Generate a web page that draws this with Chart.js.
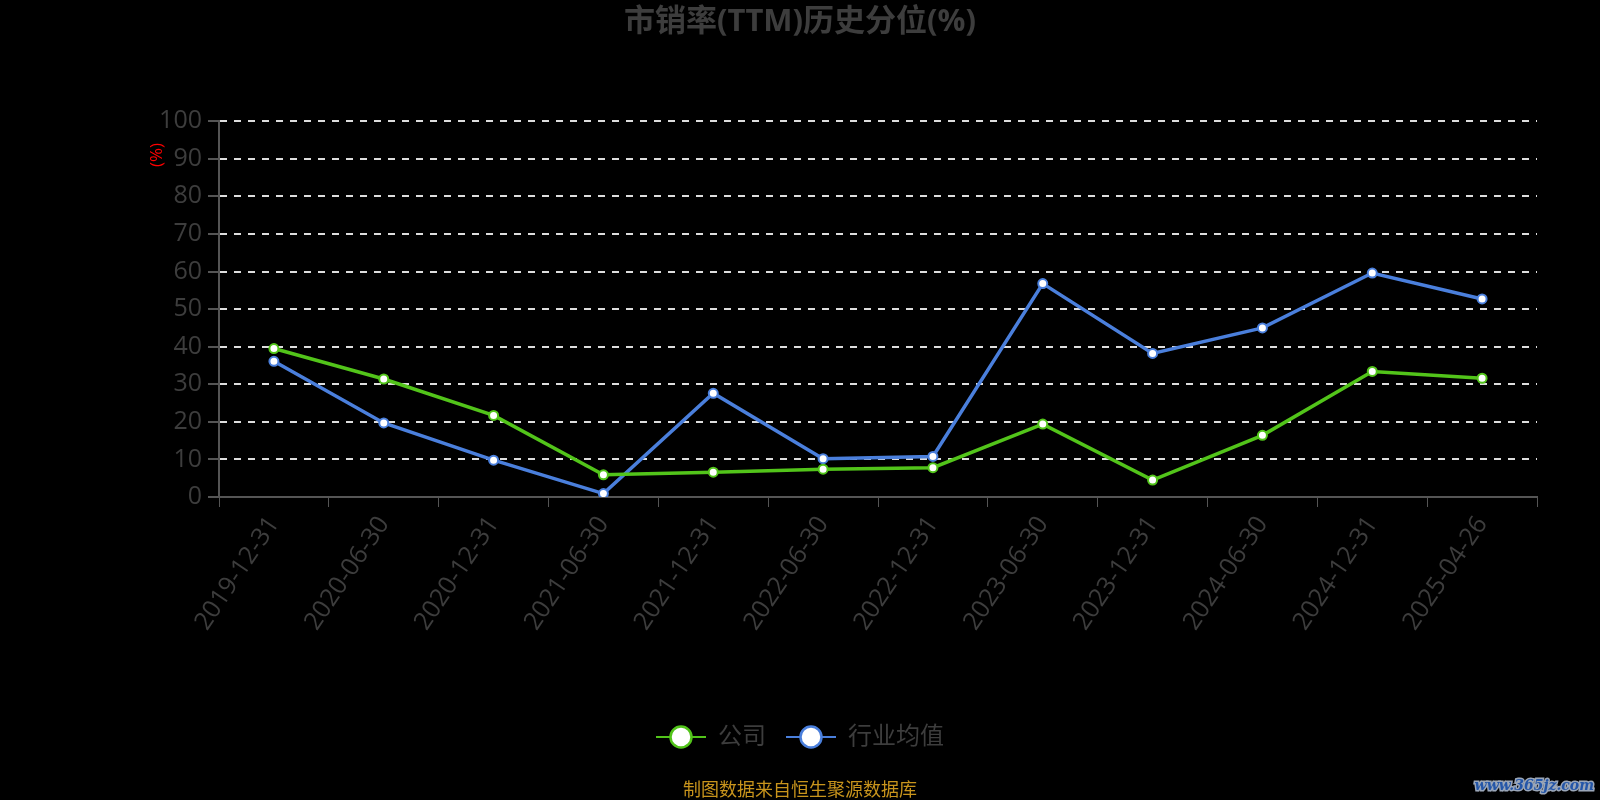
<!DOCTYPE html>
<html>
<head>
<meta charset="utf-8">
<title>市销率(TTM)历史分位(%)</title>
<script src="https://cdn.jsdelivr.net/npm/chart.js@4.4.1/dist/chart.umd.min.js"></script>
<style>
  html, body { margin: 0; padding: 0; background: #000; }
  #wrap { width: 1600px; height: 800px; }
</style>
</head>
<body>
<div id="wrap"><canvas id="myChart" width="1600" height="800"></canvas></div>
<script>
// data
const dates = ["2019-12-31", "2020-06-30", "2020-12-31", "2021-06-30", "2021-12-31", "2022-06-30",
  "2022-12-31", "2023-06-30", "2023-12-31", "2024-06-30", "2024-12-31", "2025-04-26"];
const companyValues = [39.5, 31.4, 21.7, 5.9, 6.6, 7.4, 7.8, 19.4, 4.5, 16.4, 33.4, 31.6];
const industryValues = [36.1, 19.7, 9.8, 0.9, 27.6, 10.2, 10.8, 56.8, 38.2, 45.0, 59.6, 52.7];
const seriesNames = ["公司", "行业均值"];
const yTicks = [0, 10, 20, 30, 40, 50, 60, 70, 80, 90, 100];

const green = "#52c41a";
const blue = "#4a7fdc";
const textGray = "#3d3d3d";
const axisGray = "#555555";

Chart.defaults.font.family = "'Open Sans', 'Noto Sans CJK SC', sans-serif";

// legend icon: short line with a hollow circle on it
function legendIcon(color) {
  let c = document.createElement("canvas");
  c.width = 50;
  c.height = 28;
  let g = c.getContext("2d");
  g.strokeStyle = color;
  g.lineWidth = 2;
  g.beginPath();
  g.moveTo(0, 14);
  g.lineTo(50, 14);
  g.stroke();
  g.beginPath();
  g.arc(25, 14, 10.5, 0, Math.PI * 2);
  g.fillStyle = "#fff";
  g.fill();
  g.lineWidth = 2.5;
  g.stroke();
  return c;
}
const icons = [legendIcon(green), legendIcon(blue)];

const extraText = {
  id: "extraText",
  afterDraw(chart) {
    const c = chart.ctx;
    c.save();
    // y axis unit
    c.translate(157, 155);
    c.rotate(-Math.PI / 2);
    c.fillStyle = "#ff0000";
    c.font = "17px 'Open Sans', 'Noto Sans CJK SC'";
    c.textAlign = "center";
    c.textBaseline = "middle";
    c.fillText("(%)", 0, 0);
    c.restore();

    c.save();
    c.fillStyle = "#c8941c";
    c.font = "18px 'Noto Sans CJK SC'";
    c.textAlign = "center";
    c.textBaseline = "middle";
    c.fillText("制图数据来自恒生聚源数据库", 800, 789);

    c.font = "bold italic 14px 'DejaVu Serif', serif";
    c.textAlign = "right";
    c.lineWidth = 3;
    c.strokeStyle = "#9aa6b8";
    c.strokeText("www.365jz.com", 1594, 786);
    c.fillStyle = "#2456a8";
    c.fillText("www.365jz.com", 1594, 786);
    c.restore();
  }
};

const ctx = document.getElementById("myChart");
const myChart = new Chart(ctx, {
  type: "line",
  data: {
    labels: dates,
    datasets: [
      {
        label: seriesNames[0],
        data: companyValues,
        borderColor: green,
        borderWidth: 3.5,
        pointRadius: 4.5,
        pointBorderWidth: 2,
        pointBackgroundColor: "#fff",
        pointBorderColor: green,
        tension: 0,
      },
      {
        label: seriesNames[1],
        data: industryValues,
        borderColor: blue,
        borderWidth: 3.5,
        pointRadius: 4.5,
        pointBorderWidth: 2,
        pointBackgroundColor: "#fff",
        pointBorderColor: blue,
        tension: 0,
      },
    ],
  },
  options: {
    responsive: false,
    animation: false,
    devicePixelRatio: 1,
    layout: { padding: { left: 0, right: 0, top: 0, bottom: 41 } },
    plugins: {
      title: {
        display: true,
        text: "市销率(TTM)历史分位(%)",
        color: textGray,
        font: { size: 31, weight: "bold" },
        padding: { top: 4, bottom: 80 },
      },
      legend: {
        position: "bottom",
        labels: {
          usePointStyle: true,
          pointStyleWidth: 50,
          boxHeight: 24,
          padding: 20,
          color: textGray,
          font: { size: 24 },
          generateLabels: (chart) =>
            chart.data.datasets.map((ds, i) => ({
              text: ds.label,
              pointStyle: icons[i],
              fontColor: textGray,
              fillStyle: "#fff",
              strokeStyle: ds.borderColor,
              lineWidth: 0,
              hidden: false,
              datasetIndex: i,
            })),
        },
      },
      tooltip: { enabled: false },
    },
    scales: {
      x: {
        offset: true,
        grid: {
          offset: true,
          drawOnChartArea: false,
          tickLength: 10,
          tickColor: axisGray,
          color: axisGray,
        },
        border: { color: axisGray, width: 2 },
        ticks: {
          color: textGray,
          font: { size: 25 },
          minRotation: 56,
          maxRotation: 56,
          padding: 4,
          autoSkip: false,
        },
        afterFit: (scale) => {
          scale.height = 208;
        },
      },
      y: {
        min: 0,
        max: 100,
        afterBuildTicks: (scale) => {
          scale.ticks = yTicks.map((v) => ({ value: v }));
        },
        grid: {
          color: (c) => (c.tick && c.tick.value === 0 ? "rgba(0,0,0,0)" : "#dddddd"),
          lineWidth: 2,
          tickLength: 11,
          tickColor: axisGray,
          tickBorderDash: [],
          tickWidth: 2,
        },
        border: { color: axisGray, width: 2, dash: [7, 7] },
        ticks: {
          color: textGray,
          font: { size: 25 },
          padding: 6,
        },
        afterFit: (scale) => {
          scale.width = 219;
        },
      },
      // empty right-hand axis, only keeps the plot clear of the right edge
      yRight: {
        position: "right",
        min: 0,
        max: 100,
        grid: { display: false },
        border: { display: false },
        ticks: { display: false },
        afterFit: (scale) => {
          scale.width = 63;
        },
      },
    },
  },
  plugins: [extraText],
});
</script>
</body>
</html>
